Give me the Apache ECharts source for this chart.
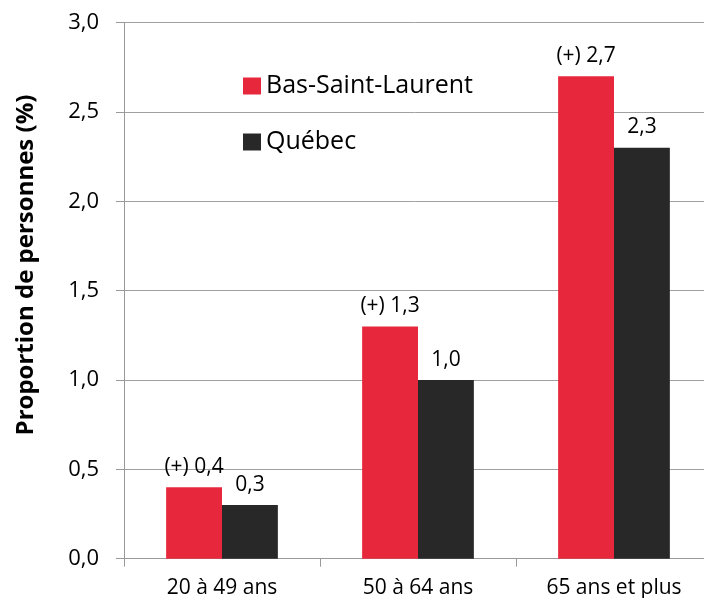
<!DOCTYPE html>
<html>
<head>
<meta charset="utf-8">
<script src="https://cdn.jsdelivr.net/npm/echarts@6/dist/echarts.min.js"></script>
<style>
html,body{margin:0;padding:0;background:#fff;}
#c{width:704px;height:598px;}
</style>
</head>
<body>
<div id="c"></div>
<script>
var categories = ["20 à 49 ans", "50 à 64 ans", "65 ans et plus"];
var seriesNames = ["Bas-Saint-Laurent", "Québec"];
var basSaintLaurent = [0.4, 1.3, 2.7];
var quebec = [0.3, 1.0, 2.3];
var bslMarkers = ["(+)", "(+)", "(+)"];
var yTicks = [0, 0.5, 1.0, 1.5, 2.0, 2.5, 3.0];
var yTitle = "Proportion de personnes (%)";

function fr(v){ return v.toFixed(1).replace('.', ','); }

var FONT = '"Open Sans", sans-serif';
var chart = echarts.init(document.getElementById('c'), null, {renderer:'canvas'});
chart.setOption({
  animation: false,
  backgroundColor: '#fff',
  grid: {left: 124, width: 588, top: 22.7, height: 536, containLabel: false, outerBoundsMode: 'none'},
  legend: {
    orient: 'vertical',
    left: 243, top: 73, padding: 0,
    itemWidth: 18, itemHeight: 17, itemGap: 30,
    textStyle: {fontFamily: FONT, fontSize: 25, color: '#000', lineHeight: 26},
    icon: 'rect',
    data: seriesNames
  },
  graphic: [{
    type: 'text',
    x: 26, y: 265,
    rotation: Math.PI / 2,
    style: {
      text: yTitle,
      fontFamily: FONT, fontSize: 24, fontWeight: 'bold',
      fill: '#000', align: 'center', verticalAlign: 'middle'
    }
  }],
  xAxis: {
    type: 'category',
    data: categories,
    axisLine: {show: true, lineStyle: {color: '#999', width: 1}},
    axisTick: {show: true, length: 8, lineStyle: {color: '#999'}, alignWithLabel: false},
    axisLabel: {fontFamily: FONT, fontSize: 21, color: '#000', margin: 19}
  },
  yAxis: {
    type: 'value',
    min: 0, max: 3, interval: 0.5,
    axisLine: {show: true, lineStyle: {color: '#999', width: 1}},
    axisTick: {show: true, length: 8, lineStyle: {color: '#999'}},
    splitLine: {show: true, lineStyle: {color: '#a0a0a0', width: 1}},
    axisLabel: {fontFamily: FONT, fontSize: 22, color: '#000', margin: 25,
      formatter: function(v){ return fr(v); }}
  },
  series: [
    {
      name: seriesNames[0], type: 'bar', data: basSaintLaurent,
      barGap: '0%', barCategoryGap: '43%',
      itemStyle: {color: '#E6273C'},
      label: {show: true, position: 'top', distance: 10, fontFamily: FONT, fontSize: 21, color: '#000',
        formatter: function(p){ return bslMarkers[p.dataIndex] + ' ' + fr(p.value); }}
    },
    {
      name: seriesNames[1], type: 'bar', data: quebec,
      barGap: '0%', barCategoryGap: '43%',
      itemStyle: {color: '#282828'},
      label: {show: true, position: 'top', distance: 10, fontFamily: FONT, fontSize: 21, color: '#000',
        formatter: function(p){ return fr(p.value); }}
    }
  ]
});
</script>
</body>
</html>
